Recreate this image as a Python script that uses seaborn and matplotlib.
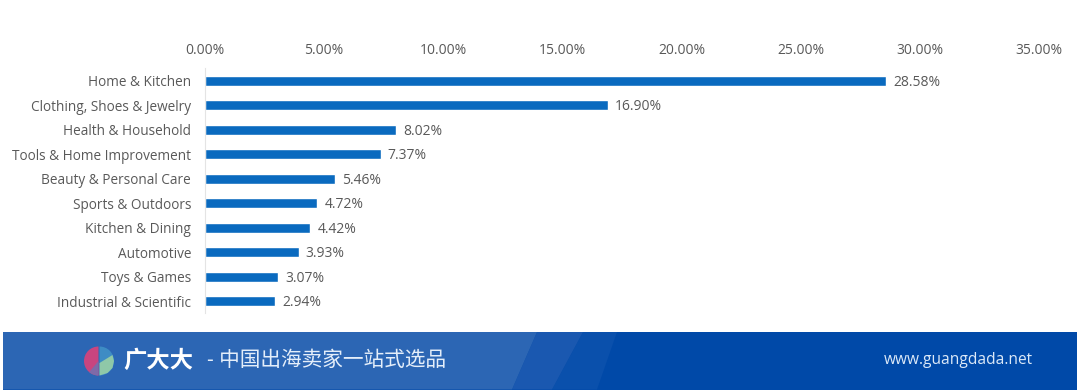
import matplotlib
matplotlib.use("Agg")
import matplotlib.pyplot as plt
import matplotlib.patches as mp
import numpy as np
import pandas as pd
import seaborn as sns

categories = ["Home & Kitchen", "Clothing, Shoes & Jewelry", "Health & Household",
              "Tools & Home Improvement", "Beauty & Personal Care", "Sports & Outdoors",
              "Kitchen & Dining", "Automotive", "Toys & Games", "Industrial & Scientific"]
values = [28.58, 16.90, 8.02, 7.37, 5.46, 4.72, 4.42, 3.93, 3.07, 2.94]
x_ticks = [0, 5, 10, 15, 20, 25, 30, 35]

W, H = 1080, 391
sns.set_theme(style="white")
plt.rcParams["font.family"] = ["Open Sans", "Noto Sans CJK SC", "DejaVu Sans"]
TXT = "#595959"

fig = plt.figure(figsize=(W / 100, H / 100), dpi=100, facecolor="white")
ax = fig.add_axes([205 / W, 1 - 313.5 / H, (1039 - 205) / W, (313.5 - 68.5) / H])
df = pd.DataFrame({"category": categories, "value": values})
sns.barplot(data=df, y="category", x="value", color="#0A6ABF", width=0.42,
            saturation=1, ax=ax, orient="h")
ax.set_xlim(0, 35)
ax.set_ylim(len(categories) - 0.5, -0.5)
ax.set_xlabel(""); ax.set_ylabel("")
ax.xaxis.tick_top()
ax.set_xticks(x_ticks)
ax.set_xticklabels([f"{t:.2f}%" for t in x_ticks], fontsize=10, color=TXT)
ax.tick_params(axis="x", length=0, pad=7.5)
ax.tick_params(axis="y", length=0, pad=10, labelsize=9.8, labelcolor=TXT)
for s in ["top", "right", "bottom"]:
    ax.spines[s].set_visible(False)
ax.spines["left"].set_color("#E4E4E4")
ax.spines["left"].set_linewidth(0.8)
for i, v in enumerate(values):
    ax.annotate(f"{v:.2f}%", (v, i), xytext=(5, -1), textcoords="offset points",
                va="center", ha="left", fontsize=10, color=TXT)

# footer banner
bn = fig.add_axes([0, 0, 1, 1], zorder=3)
bn.set_xlim(0, W); bn.set_ylim(H, 0); bn.axis("off"); bn.patch.set_alpha(0)
T, B = 332, 389.5
bn.add_patch(mp.Rectangle((3, T), 1074, B - T, color="#0049A8", lw=0))
bn.add_patch(mp.Polygon([(552, B), (583, T), (617, T), (597, B)], color="#0A50AC", lw=0))
bn.add_patch(mp.Polygon([(512, B), (537, T), (583, T), (552, B)], color="#1A58B0", lw=0))
bn.add_patch(mp.Polygon([(3, T), (537, T), (512, B), (3, B)], color="#2C66B4", lw=0))
cx, cy, r = 99.5, 361, 14.5
bn.add_patch(mp.Wedge((cx - 1, cy), r, 90, 270, color="#C9457F", lw=0))
bn.add_patch(mp.Wedge((cx - 1, cy), r, 90, 130, color="#7E6AA8", lw=0))
bn.add_patch(mp.Wedge((cx, cy), r, 0, 90, color="#3E8CC4", lw=0))
bn.add_patch(mp.Wedge((cx, cy), r, 270, 360, color="#3E8CC4", lw=0))
bn.add_patch(mp.Polygon([(cx, cy + r), (cx, cy + 2), (cx + 13, cy - 6), (cx + r, cy), (cx + 13, cy + 7), (cx + 8, cy + 12)],
                        color="#8FC8A8", lw=0))
bn.text(123.5, 360.5, "广大大", color="white", fontsize=16.8, fontweight="bold",
        family=["Noto Sans CJK SC"], va="center", ha="left")
bn.text(207, 360, "- 中国出海卖家一站式选品", color="#E4EEFA", fontsize=14.9,
        va="center", ha="left")
bn.text(1033, 360, "www.guangdada.net", color="#DCE9F8", fontsize=11.2, va="center", ha="right")

fig.savefig("out.png", dpi=100)
